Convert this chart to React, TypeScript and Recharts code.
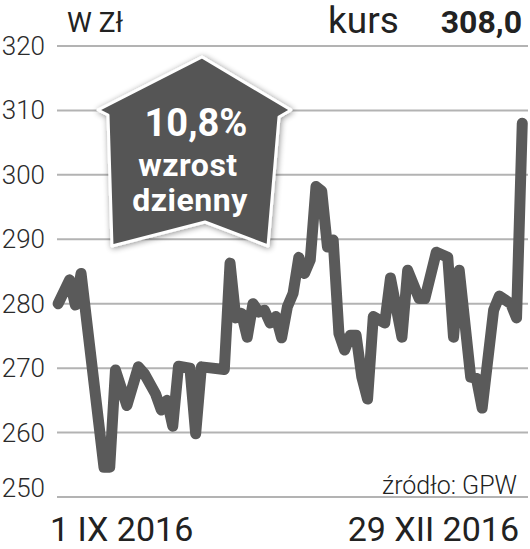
import { LineChart, Line, XAxis, YAxis, CartesianGrid } from 'recharts';

// trading session number since 1 IX 2016 and closing price (zł)
const sessions = [
  0, 2, 3, 4, 8, 9, 10, 12, 14, 15, 17, 18, 19, 20, 21, 23, 24, 25, 29, 30,
  31, 32, 33, 34, 35, 36, 37, 38, 39, 40, 41, 42, 43, 44, 45, 46, 47, 48, 49,
  50, 51, 52, 53, 54, 55, 57, 58, 60, 61, 63, 64, 66, 68, 69, 70, 72, 73, 74,
  76, 77, 79, 80, 81,
];
const prices = [
  280.0, 283.7, 279.8, 284.7, 254.6, 254.6, 269.7, 264.2, 270.2, 269.2, 266.0,
  263.5, 265.0, 261.0, 270.3, 270.0, 259.8, 270.2, 269.8, 286.3, 277.8, 278.5,
  274.8, 280.0, 278.7, 279.0, 277.0, 278.0, 274.7, 279.5, 281.6, 287.2, 284.7,
  286.8, 298.2, 297.5, 288.8, 289.9, 275.4, 272.8, 275.1, 275.1, 268.6, 265.2,
  278.0, 277.0, 284.0, 274.8, 285.2, 280.8, 280.8, 288.0, 287.2, 274.8, 285.2,
  268.6, 268.4, 263.8, 279.0, 281.2, 280.0, 277.8, 308.0,
];
const yTicks = [250, 260, 270, 280, 290, 300, 310, 320];
const startLabel = '1 IX 2016';
const endLabel = '29 XII 2016';
const lastPrice = '308,0';
const dailyChange = '10,8%';

const data = sessions.map((s, i) => ({ s, price: prices[i] }));

const FONT = 'Roboto, "Open Sans", sans-serif';

function PriceTick(props: any) {
  const { y, payload } = props;
  // bottom label sits above its line
  const dy = payload.value === 250 ? -9 : 0;
  return (
    <text
      x={45}
      y={y + dy}
      textAnchor="end"
      dominantBaseline="central"
      fontFamily={FONT}
      fontWeight={300}
      fontSize={26}
      fill="#2b2b2b"
    >
      {payload.value}
    </text>
  );
}

function Badge() {
  const pts = '202,57 291,110 279,117 268,246 205,222 112,246 108,115 98,110';
  return (
    <svg width={530} height={549} style={{ position: 'absolute', left: 0, top: 0, pointerEvents: 'none' }}>
      <defs>
        <filter id="sh" x="-20%" y="-20%" width="140%" height="140%">
          <feGaussianBlur in="SourceAlpha" stdDeviation="3" />
          <feOffset dx="1" dy="1" result="b" />
          <feComponentTransfer>
            <feFuncA type="linear" slope="0.45" />
          </feComponentTransfer>
          <feMerge>
            <feMergeNode />
            <feMergeNode in="SourceGraphic" />
          </feMerge>
        </filter>
      </defs>
      <polygon points={pts} fill="#555555" stroke="#ffffff" strokeWidth={3} strokeLinejoin="round" filter="url(#sh)" />
      <g fontFamily={FONT} fontWeight={700} fill="#ffffff" textAnchor="middle">
        <text x={196} y={136} fontSize={38}>{dailyChange}</text>
        <text x={188} y={176} fontSize={32} letterSpacing={0.5}>wzrost</text>
        <text x={190} y={211} fontSize={32} letterSpacing={0.5}>dzienny</text>
      </g>
      <g fontFamily={FONT} fill="#222">
        <text x={67} y={32} fontSize={28}>W Zł</text>
        <text x={328} y={33} fontSize={37}>kurs</text>
        <text x={522} y={33} fontSize={32} fontWeight={700} textAnchor="end">{lastPrice}</text>
        <text x={517} y={494} fontSize={25} fontWeight={300} textAnchor="end">źródło: GPW</text>
        <text x={50} y={541} fontSize={34}>{startLabel}</text>
        <text x={519} y={541} fontSize={34} textAnchor="end">{endLabel}</text>
      </g>
    </svg>
  );
}

export default function App() {
  return (
    <div style={{ position: 'absolute', left: 0, top: 0, width: 530, height: 549, background: '#fff' }}>
      <LineChart width={530} height={549} data={data} margin={{ top: 46, right: 2, bottom: 52, left: 0 }}>
        <CartesianGrid vertical={false} stroke="#b3b3b3" strokeWidth={2} />
        <XAxis type="number" dataKey="s" domain={[-0.2, 82]} hide />
        <YAxis
          type="number"
          domain={[250, 320]}
          ticks={yTicks}
          width={57}
          axisLine={false}
          tickLine={false}
          tick={<PriceTick />}
          interval={0}
        />
        <Line
          type="linear"
          dataKey="price"
          stroke="#5a5a5a"
          strokeWidth={11}
          strokeLinejoin="round"
          strokeLinecap="round"
          dot={false}
          isAnimationActive={false}
        />
      </LineChart>
      <Badge />
    </div>
  );
}
